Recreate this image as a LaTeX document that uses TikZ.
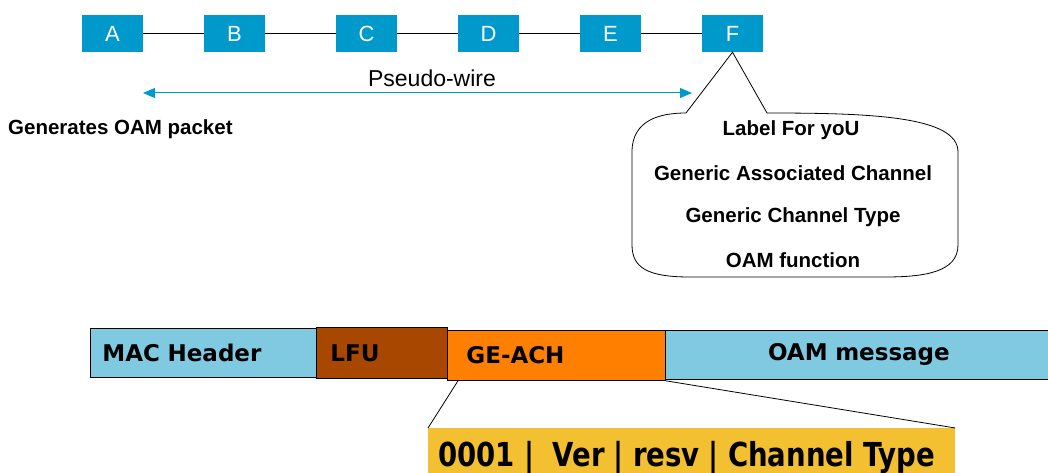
\documentclass[tikz,border=0pt]{standalone}
\usepackage{fontspec}
\setmainfont{Liberation Sans}
\newfontfamily\tahfont{DejaVu Sans}
\usetikzlibrary{arrows.meta}
\definecolor{nodeblue}{RGB}{0,153,204}
\definecolor{lightblue}{RGB}{127,201,225}
\definecolor{lfubrown}{RGB}{168,71,0}
\definecolor{achorange}{RGB}{255,128,0}
\definecolor{hdryellow}{RGB}{242,192,48}
\begin{document}
\begin{tikzpicture}[x=1pt,y=-1pt,
  pbox/.style={fill=nodeblue, text=white, minimum width=61pt, minimum height=37pt, inner sep=0pt, font=\fontsize{22}{22}\selectfont},
  link/.style={draw=black, line width=0.8pt},
  lbl/.style={font=\bfseries\fontsize{20.5}{24}\selectfont, inner sep=0pt},
  seg/.style={draw=black, line width=0.8pt, anchor=north west, inner ysep=0pt, align=left, font=\tahfont\bfseries\fontsize{23}{23}\selectfont},
]
\useasboundingbox (0,0) rectangle (1048,473);
% top chain
\node[pbox] (A) at (112.5,33.5) {A};
\node[pbox] (B) at (234.5,33.5) {B};
\node[pbox] (C) at (366.5,33.5) {C};
\node[pbox] (D) at (488.5,33.5) {D};
\node[pbox] (E) at (610.5,33.5) {E};
\node[pbox] (F) at (732.5,33.5) {F};
\draw[link] (A) -- (B);
\draw[link] (B) -- (C);
\draw[link] (C) -- (D);
\draw[link] (D) -- (E);
\draw[link] (E) -- (F);
% pseudo-wire
\coordinate (pwL) at (143,93);
\coordinate (pwR) at (692,93);
\draw[nodeblue, line width=1pt, {Triangle[length=12pt,width=10pt]}-{Triangle[length=12pt,width=10pt]}] (pwL) -- (pwR);
\node[font=\fontsize{23}{23}\selectfont, inner sep=0pt] (pw) at (432,78) {Pseudo-wire};
\node[lbl, anchor=west] (gen) at (8,129) {Generates OAM packet};
% callout
\draw[line width=0.8pt, fill=white] (686,113) -- (F.south) -- (767,113)
  .. controls (870,113) and (958,116) .. (958,152) -- (958,245)
  .. controls (958,272) and (925,277) .. (885,277) -- (690,277)
  .. controls (648,277) and (632,268) .. (632,245) -- (632,152)
  .. controls (632,120) and (660,113) .. (686,113) -- cycle;
\node[lbl] (c1) at (791,130) {Label For yoU};
\node[lbl] (c2) at (793,173) {Generic Associated Channel};
\node[lbl] (c3) at (793,217) {Generic Channel Type};
\node[lbl] (c4) at (793,260) {OAM function};
% frame
\node[seg, fill=lightblue, text width=211pt, inner xsep=12pt, minimum height=49pt] (mac) at (90,328) {MAC Header};
\node[seg, fill=lfubrown, text width=103pt, inner xsep=14pt, minimum height=51pt] (lfu) at (316,327) {LFU};
\node[seg, fill=achorange, text width=180pt, inner xsep=19pt, minimum height=50pt] (ach) at (447,330) {GE-ACH};
\node[seg, fill=lightblue, text width=387pt, inner xsep=0pt, align=center, minimum height=49pt] (oam) at (665,330) {OAM message};
% header detail
\node[anchor=north west, fill=hdryellow, minimum width=527pt, minimum height=59pt, inner xsep=10pt, inner ysep=0pt, text width=507pt, align=left, font=\tahfont\bfseries\fontsize{33}{33}\selectfont] (hdr) at (428,428) {\scalebox{0.835}[1]{0001 |\ \ Ver | resv | Channel Type}};
\draw[line width=0.8pt] ([xshift=11pt]ach.south west) -- (hdr.north west);
\draw[line width=0.8pt] (ach.south east) -- (hdr.north east);
\end{tikzpicture}
\end{document}
